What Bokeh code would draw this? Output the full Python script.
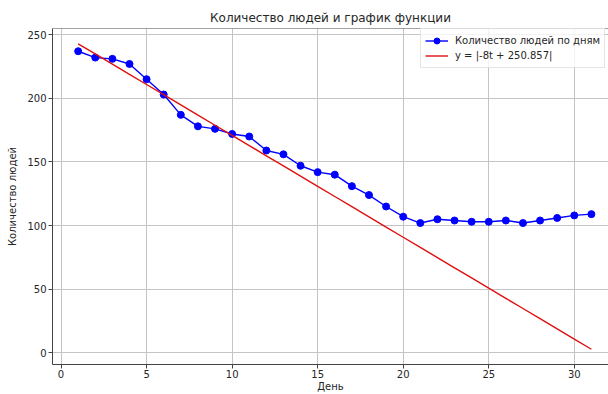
from bokeh.plotting import figure
from bokeh.models import Range1d, FixedTicker, Span, Legend, LegendItem
from bokeh.embed import file_html
from bokeh.resources import INLINE

# ---- data ----
days = list(range(1, 32))
people = [237, 232, 231, 227, 215, 203, 187, 178, 176, 172, 170, 159, 156, 147,
          142, 140, 131, 124, 115, 107, 102, 105, 104, 103, 103, 104, 102, 104,
          106, 108, 109]
slope = -8
intercept = 250.857
fit = [abs(slope * t + intercept) for t in days]

x_ticks = [0, 5, 10, 15, 20, 25, 30]
y_ticks = [0, 50, 100, 150, 200, 250]

title_text = "Количество людей и график функции"
x_label = "День"
y_label = "Количество людей"
label_people = "Количество людей по дням"
label_fit = "y = |-8t + 250.857|"

FONT = "DejaVu Sans"
TXT = "#262626"

p = figure(width=608, height=394, output_backend="svg", toolbar_location=None,
           x_range=Range1d(-0.5, 32.0), y_range=Range1d(-9.14, 254.86),
           min_border_left=52, min_border_right=0, min_border_top=28,
           min_border_bottom=30)

p.title.text = title_text
p.title.align = "center"
p.title.text_font = FONT
p.title.text_font_size = "12px"
p.title.text_font_style = "normal"
p.title.text_color = TXT
p.title.standoff = 7

p.outline_line_color = None
p.background_fill_color = "white"
p.border_fill_color = "white"

for ax in (p.xaxis[0], p.yaxis[0]):
    ax.axis_line_color = "#444444"
    ax.axis_line_width = 1
    ax.major_tick_line_color = "#444444"
    ax.major_tick_out = 4
    ax.major_tick_in = 0
    ax.minor_tick_line_color = None
    ax.major_label_text_font = FONT
    ax.major_label_text_font_size = "10px"
    ax.major_label_text_color = TXT
    ax.axis_label_text_font = FONT
    ax.axis_label_text_font_size = "10px"
    ax.axis_label_text_font_style = "normal"
    ax.axis_label_text_color = TXT
    ax.major_label_standoff = 2

p.xaxis.ticker = FixedTicker(ticks=x_ticks)
p.yaxis.ticker = FixedTicker(ticks=y_ticks)
p.xaxis.axis_label = x_label
p.yaxis.axis_label = y_label
p.xaxis.major_label_standoff = 1
p.xaxis.axis_label_standoff = 0
p.yaxis.axis_label_standoff = 6

p.xgrid.ticker = FixedTicker(ticks=x_ticks)
p.ygrid.ticker = FixedTicker(ticks=y_ticks)
for g in (p.xgrid[0], p.ygrid[0]):
    g.grid_line_color = "#c4c4c4"
    g.grid_line_width = 1

# top spine
p.add_layout(Span(location=p.y_range.end, dimension="width",
                  line_color="#444444", line_width=1))

r_line = p.line(days, people, line_color="#0000ff", line_width=1.4)
r_pts = p.scatter(days, people, size=7, fill_color="#0000ff", line_color="#0000ff")
r_fit = p.line(days, fit, line_color="#e01010", line_width=1.4)

legend = Legend(items=[LegendItem(label=label_people, renderers=[r_line, r_pts]),
                       LegendItem(label=label_fit, renderers=[r_fit])],
                location=(368, 296))
legend.label_text_font = FONT
legend.label_text_font_size = "10px"
legend.label_text_color = TXT
legend.glyph_width = 23
legend.glyph_height = 15
legend.label_height = 15
legend.label_standoff = 7
legend.spacing = 0
legend.padding = 4
legend.margin = 0
legend.border_line_color = "#cccccc"
legend.border_line_width = 1
legend.background_fill_color = "white"
legend.background_fill_alpha = 0.8
p.add_layout(legend, "center")

open("out.html", "w").write(file_html(p, INLINE))
